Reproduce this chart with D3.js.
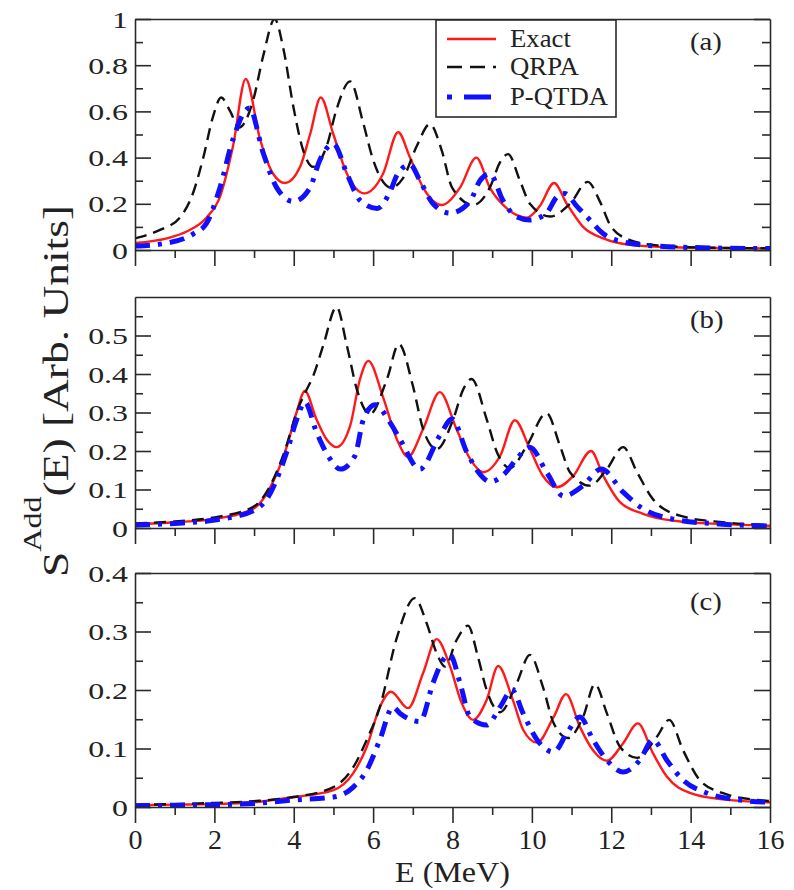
<!DOCTYPE html>
<html>
<head>
<meta charset="utf-8">
<script src="https://cdn.jsdelivr.net/npm/d3@7"></script>
<style>
  html, body { margin: 0; padding: 0; background: #fff; }
  svg { display: block; }
  text { font-family: "Liberation Serif", "Times New Roman", serif; fill: #222; }
</style>
</head>
<body>
<svg id="chart" width="794" height="890"></svg>
<script>
// ---------------- DATA ----------------
const xTicks = [0, 2, 4, 6, 8, 10, 12, 14, 16];
const xTickLabels = ["0", "2", "4", "6", "8", "10", "12", "14", "16"];
const xMinor = [1, 3, 5, 7, 9, 11, 13, 15];

const yTicksA = [0, 0.2, 0.4, 0.6, 0.8, 1];
const yLabelsA = ["0", "0.2", "0.4", "0.6", "0.8", "1"];
const yMinorA = [0.1, 0.3, 0.5, 0.7, 0.9];
const yTicksB = [0, 0.1, 0.2, 0.3, 0.4, 0.5];
const yLabelsB = ["0", "0.1", "0.2", "0.3", "0.4", "0.5"];
const yMinorB = [0.05, 0.15, 0.25, 0.35, 0.45, 0.55];
const yTicksC = [0, 0.1, 0.2, 0.3, 0.4];
const yLabelsC = ["0", "0.1", "0.2", "0.3", "0.4"];
const yMinorC = [0.05, 0.15, 0.25, 0.35];

const seriesNames = ["Exact", "QRPA", "P-QTDA"];
const panelTags = ["(a)", "(b)", "(c)"];

// Panel (a)  [E (MeV), S]
const exactA = [[0,0.03],[0.8,0.05],[1.3,0.08],[1.8,0.14],[2.14,0.23],[2.47,0.45],[2.79,0.74],[3.15,0.48],[3.48,0.33],[3.78,0.29],[4.16,0.36],[4.41,0.5],[4.68,0.66],[5.0,0.5],[5.34,0.33],[5.78,0.245],[6.25,0.33],[6.63,0.51],[6.93,0.40],[7.26,0.27],[7.73,0.195],[8.19,0.27],[8.6,0.40],[8.94,0.27],[9.37,0.18],[9.87,0.14],[10.2,0.19],[10.56,0.29],[10.88,0.2],[11.29,0.1],[11.8,0.05],[12.47,0.022],[13.56,0.012],[16,0.007]];
const qrpaA = [[0,0.05],[0.63,0.087],[1.13,0.14],[1.47,0.25],[1.72,0.40],[1.97,0.58],[2.17,0.66],[2.4,0.6],[2.62,0.53],[2.98,0.65],[3.23,0.84],[3.52,1.0],[3.74,0.87],[3.99,0.62],[4.24,0.43],[4.49,0.36],[4.83,0.45],[5.08,0.61],[5.42,0.73],[5.75,0.55],[6.0,0.39],[6.45,0.27],[6.75,0.31],[7.1,0.45],[7.43,0.545],[7.73,0.43],[7.99,0.27],[8.52,0.195],[8.94,0.27],[9.2,0.38],[9.4,0.415],[9.7,0.30],[9.95,0.2],[10.46,0.145],[10.96,0.20],[11.41,0.295],[11.7,0.215],[12.0,0.1],[12.47,0.043],[13.15,0.02],[14,0.012],[16,0.007]];
const pqtdaA = [[0,0.017],[0.8,0.03],[1.47,0.07],[1.8,0.115],[2.14,0.27],[2.47,0.48],[2.88,0.615],[3.23,0.42],[3.57,0.27],[3.99,0.21],[4.41,0.27],[4.66,0.39],[5.0,0.46],[5.34,0.33],[5.67,0.215],[6.1,0.18],[6.42,0.25],[6.62,0.33],[6.93,0.37],[7.18,0.30],[7.51,0.2],[7.94,0.16],[8.44,0.21],[8.69,0.30],[8.94,0.33],[9.27,0.215],[9.6,0.145],[9.95,0.13],[10.37,0.16],[10.63,0.23],[10.83,0.245],[11.13,0.19],[11.46,0.13],[11.8,0.07],[12.3,0.035],[13.15,0.017],[14.8,0.008],[16,0.006]];

// Panel (b)
const exactB = [[0,0.01],[1,0.015],[1.97,0.023],[2.98,0.05],[3.48,0.12],[3.82,0.21],[4.07,0.30],[4.28,0.356],[4.57,0.283],[4.83,0.23],[5.08,0.21],[5.42,0.265],[5.67,0.387],[5.88,0.434],[6.25,0.34],[6.6,0.23],[6.88,0.185],[7.26,0.257],[7.68,0.353],[8.1,0.257],[8.44,0.18],[8.77,0.145],[9.2,0.187],[9.57,0.28],[9.95,0.205],[10.28,0.135],[10.63,0.106],[11.04,0.135],[11.49,0.2],[11.8,0.135],[12.22,0.067],[12.8,0.037],[13.56,0.019],[14.8,0.01],[16,0.006]];
const qrpaB = [[0,0.012],[1,0.017],[1.97,0.027],[2.98,0.055],[3.48,0.125],[3.82,0.215],[4.07,0.30],[4.28,0.35],[4.49,0.395],[4.74,0.473],[5.08,0.574],[5.34,0.473],[5.59,0.36],[5.92,0.296],[6.35,0.387],[6.65,0.478],[7.0,0.37],[7.26,0.257],[7.6,0.205],[8.02,0.283],[8.27,0.36],[8.48,0.387],[8.86,0.283],[9.12,0.197],[9.45,0.156],[9.87,0.213],[10.37,0.298],[10.71,0.213],[10.96,0.145],[11.46,0.11],[11.89,0.153],[12.3,0.21],[12.65,0.145],[13.05,0.075],[13.73,0.032],[14.8,0.015],[16,0.008]];
const pqtdaB = [[0,0.008],[1,0.012],[1.97,0.02],[2.98,0.045],[3.32,0.075],[3.82,0.196],[4.07,0.28],[4.28,0.327],[4.57,0.25],[4.91,0.18],[5.17,0.153],[5.54,0.187],[5.75,0.28],[6.05,0.32],[6.42,0.275],[6.68,0.23],[7.18,0.153],[7.68,0.24],[7.99,0.283],[8.36,0.197],[8.69,0.14],[8.95,0.12],[9.3,0.14],[9.62,0.18],[9.95,0.21],[10.37,0.145],[10.8,0.083],[11.29,0.11],[11.75,0.153],[12.3,0.093],[12.8,0.05],[13.56,0.023],[14.8,0.01],[16,0.005]];

// Panel (c)
const exactC = [[0,0.003],[1,0.004],[2,0.005],[2.98,0.008],[4.0,0.017],[5.0,0.029],[5.5,0.058],[5.84,0.103],[6.17,0.171],[6.45,0.197],[6.88,0.169],[7.26,0.229],[7.6,0.287],[7.94,0.24],[8.23,0.178],[8.52,0.149],[8.86,0.183],[9.15,0.241],[9.52,0.183],[9.78,0.132],[10.13,0.11],[10.55,0.154],[10.86,0.193],[11.21,0.137],[11.54,0.097],[11.89,0.079],[12.3,0.109],[12.67,0.143],[13.05,0.092],[13.4,0.052],[13.98,0.024],[14.8,0.013],[16,0.008]];
const qrpaC = [[0,0.004],[1,0.005],[2,0.007],[2.98,0.01],[4.0,0.017],[5.0,0.034],[5.5,0.068],[5.84,0.115],[6.17,0.171],[6.6,0.29],[7.05,0.357],[7.35,0.314],[7.6,0.263],[7.81,0.24],[8.1,0.285],[8.39,0.31],[8.64,0.257],[8.86,0.2],[9.2,0.162],[9.62,0.212],[9.95,0.26],[10.28,0.205],[10.55,0.143],[10.91,0.118],[11.29,0.154],[11.59,0.21],[11.89,0.16],[12.22,0.103],[12.65,0.084],[13.15,0.12],[13.46,0.149],[13.81,0.097],[14.23,0.046],[14.8,0.024],[15.67,0.012],[16,0.01]];
const pqtdaC = [[0,0.002],[1,0.003],[2,0.004],[2.98,0.006],[4.0,0.012],[5.0,0.017],[5.5,0.034],[5.84,0.063],[6.17,0.115],[6.5,0.171],[6.68,0.16],[7.18,0.146],[7.51,0.212],[7.76,0.251],[7.94,0.26],[8.19,0.212],[8.44,0.154],[8.86,0.14],[9.2,0.171],[9.5,0.2],[9.78,0.16],[10.13,0.115],[10.55,0.094],[10.88,0.126],[11.21,0.154],[11.54,0.115],[11.89,0.08],[12.3,0.06],[12.72,0.08],[13.05,0.115],[13.4,0.08],[13.81,0.046],[14.4,0.024],[15.24,0.012],[16,0.008]];

// ---------------- LAYOUT & STYLE ----------------
const svg = d3.select("#chart");
const L = 135, R = 770;
const AXIS_COLOR = "#2a2a2a";
const FONT = "'Liberation Serif', 'Times New Roman', serif";
const styles = [
  { color: "#ff1a1a", width: 2.4, dash: null },
  { color: "#111111", width: 2.4, dash: "12,7" },
  { color: "#1010ff", width: 5, dash: "15,8,4,8" }
];

const panels = [
  { top: 19,  bottom: 250, yMax: 1.0, ticks: yTicksA, labels: yLabelsA, minor: yMinorA, data: [exactA, qrpaA, pqtdaA], showX: false, tagY: 50 },
  { top: 297, bottom: 528, yMax: 0.6, ticks: yTicksB, labels: yLabelsB, minor: yMinorB, data: [exactB, qrpaB, pqtdaB], showX: false, tagY: 328 },
  { top: 573, bottom: 807, yMax: 0.4, ticks: yTicksC, labels: yLabelsC, minor: yMinorC, data: [exactC, qrpaC, pqtdaC], showX: true,  tagY: 610 }
];

const x = d3.scaleLinear().domain([0, 16]).range([L, R]);

function styleAxis(g) {
  g.attr("font-family", null).attr("font-size", null);
  g.selectAll("path.domain").attr("stroke", AXIS_COLOR).attr("stroke-width", 1.6);
  g.selectAll(".tick line").attr("stroke", AXIS_COLOR).attr("stroke-width", 1.6);
}

panels.forEach((p, pi) => {
  const y = d3.scaleLinear().domain([0, p.yMax]).range([p.bottom, p.top]);
  const clipId = "clip" + pi;
  svg.append("clipPath").attr("id", clipId)
    .append("rect").attr("x", L).attr("y", p.top).attr("width", R - L).attr("height", p.bottom - p.top);

  // curves
  const line = d3.line().x(d => x(d[0])).y(d => y(d[1])).curve(d3.curveMonotoneX);
  const cg = svg.append("g").attr("clip-path", `url(#${clipId})`);
  p.data.forEach((ser, si) => {
    const st = styles[si];
    cg.append("path").datum(ser)
      .attr("d", line)
      .attr("fill", "none")
      .attr("stroke", st.color)
      .attr("stroke-width", st.width)
      .attr("stroke-linejoin", "round")
      .attr("stroke-dasharray", st.dash);
  });

  // left axis (major, inward)
  const gl = svg.append("g").attr("transform", `translate(${L},0)`)
    .call(d3.axisLeft(y).tickValues(p.ticks).tickSize(-16).tickSizeOuter(0).tickPadding(0)
      .tickFormat((d, i) => p.labels[i]));
  styleAxis(gl);
  gl.selectAll("text")
    .style("font-family", FONT)
    .style("font-size", "24px")
    .attr("fill", "#222")
    .attr("x", -7 / 1.33)
    .attr("dy", "0.34em")
    .attr("transform", "scale(1.33,1)");
  // left minor
  const glm = svg.append("g").attr("transform", `translate(${L},0)`)
    .call(d3.axisLeft(y).tickValues(p.minor).tickSize(-8).tickSizeOuter(0).tickFormat(""));
  styleAxis(glm); glm.select("path.domain").remove();

  // right axis (inward)
  const gr = svg.append("g").attr("transform", `translate(${R},0)`)
    .call(d3.axisRight(y).tickValues(p.ticks).tickSize(-16).tickSizeOuter(0).tickFormat(""));
  styleAxis(gr);
  const grm = svg.append("g").attr("transform", `translate(${R},0)`)
    .call(d3.axisRight(y).tickValues(p.minor).tickSize(-8).tickSizeOuter(0).tickFormat(""));
  styleAxis(grm); grm.select("path.domain").remove();

  // top border (no ticks)
  const gt = svg.append("g").attr("transform", `translate(0,${p.top})`)
    .call(d3.axisTop(x).tickValues([]).tickSizeOuter(0));
  styleAxis(gt);

  // bottom axis (outward ticks)
  const gb = svg.append("g").attr("transform", `translate(0,${p.bottom})`)
    .call(d3.axisBottom(x).tickValues(xTicks).tickSize(16).tickSizeOuter(0).tickPadding(6)
      .tickFormat((d, i) => p.showX ? xTickLabels[i] : ""));
  styleAxis(gb);
  gb.selectAll("text")
    .style("font-family", FONT)
    .style("font-size", "28px")
    .attr("fill", "#222");
  const gbm = svg.append("g").attr("transform", `translate(0,${p.bottom})`)
    .call(d3.axisBottom(x).tickValues(xMinor).tickSize(8).tickSizeOuter(0).tickFormat(""));
  styleAxis(gbm); gbm.select("path.domain").remove();

  // panel tag
  svg.append("text")
    .attr("transform", `translate(690,${p.tagY}) scale(1.15,1)`)
    .attr("font-size", 25)
    .text(panelTags[pi]);
});

// ---------------- LEGEND (panel a) ----------------
const lg = svg.append("g");
lg.append("rect").attr("x", 436).attr("y", 20).attr("width", 180).attr("height", 97)
  .attr("fill", "#fff").attr("stroke", AXIS_COLOR).attr("stroke-width", 1.6);
const legRowY = [39, 67, 97];
seriesNames.forEach((name, i) => {
  const st = styles[i];
  lg.append("line")
    .attr("x1", 447).attr("x2", 496).attr("y1", legRowY[i]).attr("y2", legRowY[i])
    .attr("stroke", st.color).attr("stroke-width", st.width)
    .attr("stroke-dasharray", i === 2 ? "5,12,27,5" : (i === 1 ? "15,8" : null));
  lg.append("text")
    .attr("transform", `translate(510,${legRowY[i] + 8}) scale(1.07,1)`)
    .attr("font-size", 25)
    .text(name);
});

// ---------------- AXIS TITLES ----------------
const cx = (L + R) / 2;
svg.append("text")
  .attr("transform", `translate(${cx},882) scale(1.07,1)`)
  .attr("text-anchor", "middle")
  .attr("font-size", 30)
  .text("E (MeV)");

const yl = svg.append("g").attr("transform", "translate(68,391) rotate(-90)");
const ylInner = yl.append("g");
const ylt = ylInner.append("text").attr("text-anchor", "middle").attr("font-size", 34);
ylt.append("tspan").text("S");
ylt.append("tspan").attr("font-size", 24).attr("dy", -26).text("Add");
ylt.append("tspan").attr("dy", 26).text("(E) [Arb. Units]");
const bb = ylt.node().getBBox();
const sx = 372 / bb.width;
ylInner.attr("transform", `scale(${sx},1.05)`);
</script>
</body>
</html>
